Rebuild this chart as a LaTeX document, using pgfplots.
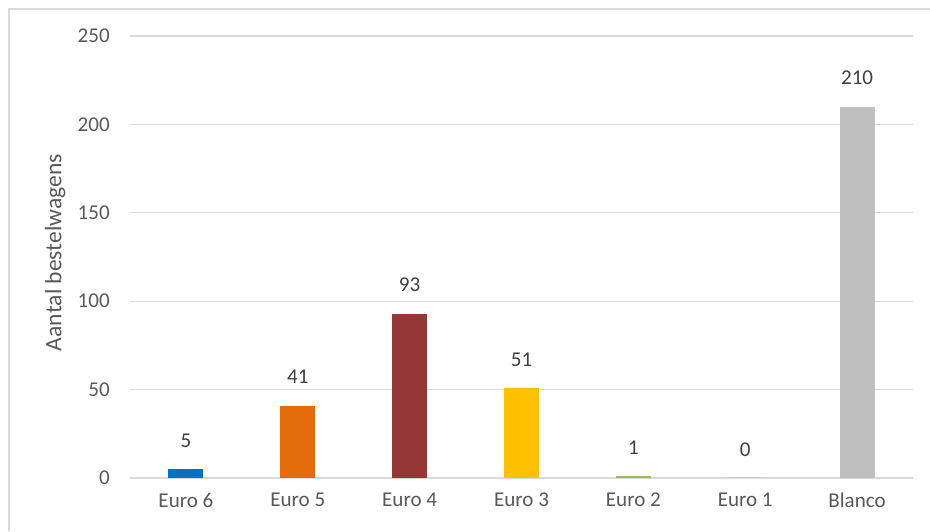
\documentclass[border=0pt]{standalone}
\usepackage{fontspec}
\setmainfont{Carlito}
\usepackage{pgfplots}
\pgfplotsset{compat=1.18}
\definecolor{txt}{HTML}{595959}
\definecolor{lbl}{HTML}{404040}
\definecolor{gridc}{HTML}{D9D9D9}
\definecolor{cSix}{HTML}{0070C0}
\definecolor{cFive}{HTML}{E46C0A}
\definecolor{cFour}{HTML}{953735}
\definecolor{cThree}{HTML}{FFC000}
\definecolor{cTwo}{HTML}{9BBB59}
\definecolor{cOne}{HTML}{4BACC6}
\definecolor{cBl}{HTML}{BFBFBF}
\begin{document}
\begin{tikzpicture}[x=0.75pt,y=0.75pt]
\useasboundingbox (0,0) rectangle (930,531);
\draw[gridc, line width=1.5pt] (9,0) -- (9,522) -- (930,522);
\begin{axis}[
  at={(97.5pt,39.75pt)}, anchor=south west,
  scale only axis, width=587.25pt, height=331.5pt,
  xmin=-0.5, xmax=6.5, ymin=0, ymax=250,
  xtick={0,...,6},
  xticklabels={Euro 6,Euro 5,Euro 4,Euro 3,Euro 2,Euro 1,Blanco},
  ytick={0,50,...,250},
  ymajorgrids, grid style={gridc, line width=0.9pt},
  axis line style={draw=none},
  major tick length=0pt,
  /pgf/number format/assume math mode=true,
  tick label style={font=\fontsize{15.8}{19}\selectfont, text=txt},
  yticklabel style={anchor=east, inner sep=0pt, xshift=-15pt},
  xticklabel style={anchor=north, inner sep=0pt, yshift=-11pt},
  ylabel={Aantal bestelwagens},
  ylabel style={font=\fontsize{17.7}{21}\selectfont, text=txt,
    at={(axis description cs:0,0.51)}, anchor=center, yshift=56pt},
  nodes near coords style={font=\fontsize{15.8}{19}\selectfont, text=lbl,
    anchor=south, inner sep=0pt, yshift=16pt},
  every axis plot/.append style={ybar, bar width=26.25pt, bar shift=0pt, draw=none, nodes near coords},
]
\addplot[fill=cSix] coordinates {(0,5)};
\addplot[fill=cFive] coordinates {(1,41)};
\addplot[fill=cFour] coordinates {(2,93)};
\addplot[fill=cThree] coordinates {(3,51)};
\addplot[fill=cTwo] coordinates {(4,1)};
\addplot[fill=cOne] coordinates {(5,0)};
\addplot[fill=cBl] coordinates {(6,210)};
\end{axis}
\end{tikzpicture}
\end{document}
